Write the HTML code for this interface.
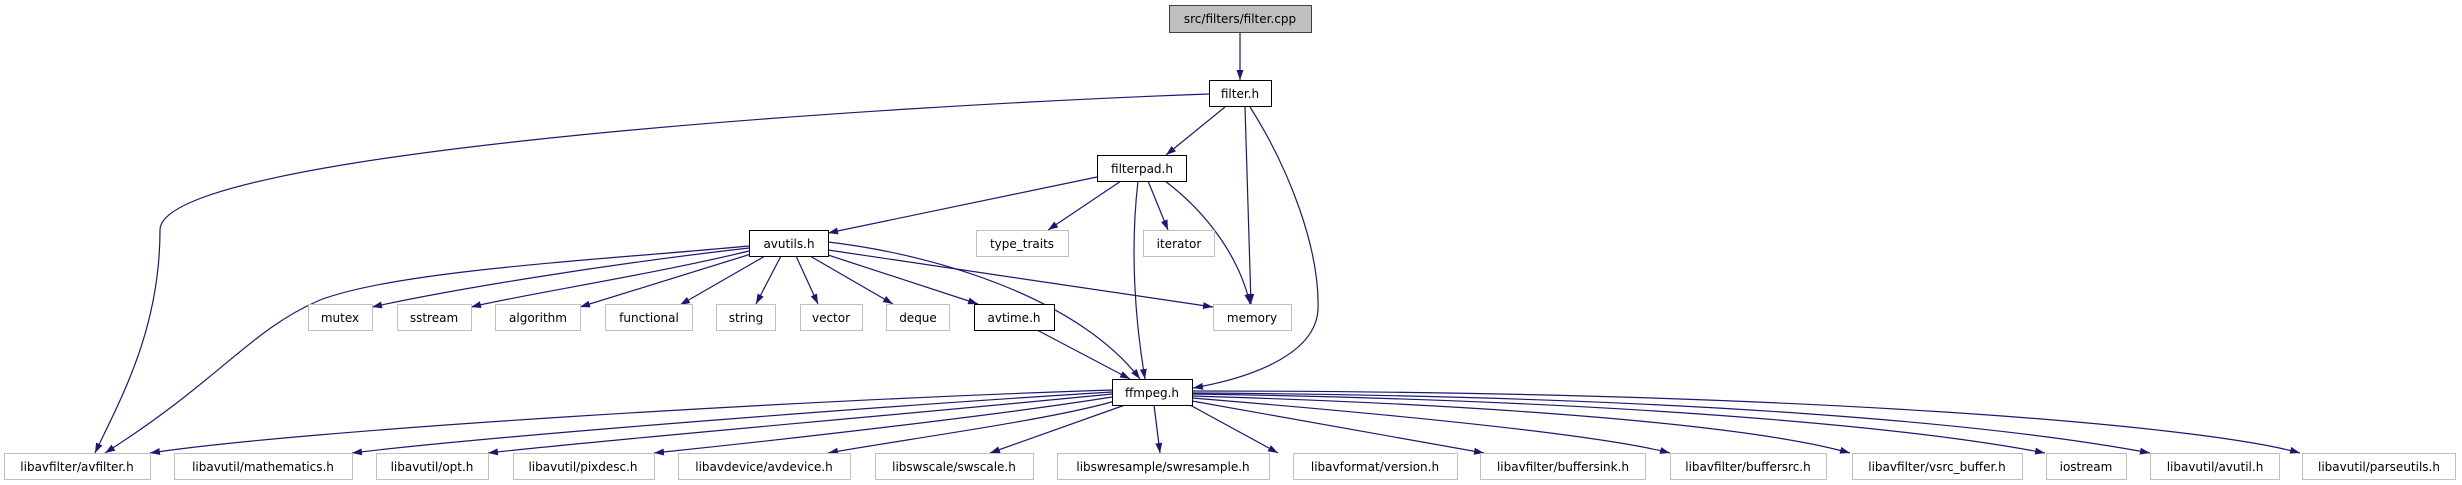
<!DOCTYPE html>
<html><head><meta charset="utf-8"><style>
body{margin:0;background:#fff;}
svg{display:block}
text{font-family:"DejaVu Sans","Liberation Sans",sans-serif;font-size:12px;fill:#000}
</style></head><body>
<svg width="2462" height="485" viewBox="0 0 2462 485" xmlns="http://www.w3.org/2000/svg">
<defs><marker id="a" viewBox="0 0 10 10" refX="10" refY="5" markerWidth="10" markerHeight="10" markerUnits="userSpaceOnUse" orient="auto"><path d="M0,1.5 L10,5 L0,8.5 z" fill="#191970"/></marker></defs>
<g fill="none" stroke="#191970" stroke-width="1.2" marker-end="url(#a)">
<path d="M1240,32 L1240,80"/>
<path d="M1209,94 C900,105 160,150 160,230 C160,330 120,400 95,453"/>
<path d="M1225,107 L1166,155"/>
<path d="M1245,107 L1251,304"/>
<path d="M1250,107 C1290,170 1320,250 1318,310 C1315,355 1250,378 1193,388"/>
<path d="M1097,177 L828,233"/>
<path d="M1121,181 L1048,230"/>
<path d="M1148,181 L1168,230"/>
<path d="M1165,181 C1210,215 1240,260 1250,304"/>
<path d="M1138,181 C1130,250 1135,320 1145,379"/>
<path d="M749,246 C600,260 400,270 320,300 C250,330 220,380 105,453"/>
<path d="M749,248 C600,265 450,290 372,307"/>
<path d="M749,251 C650,275 520,295 471,307"/>
<path d="M751,254 L580,307"/>
<path d="M765,256 L680,305"/>
<path d="M781,256 L756,304"/>
<path d="M796,256 L818,304"/>
<path d="M810,256 L893,304"/>
<path d="M825,254 L978,304"/>
<path d="M828,250 L1213,307"/>
<path d="M828,242 C940,255 1080,300 1140,379"/>
<path d="M1037,330 L1130,379"/>
<path d="M1112,390 C800,400 300,430 150,453"/>
<path d="M1112,392 C900,405 500,435 352,453"/>
<path d="M1112,394 C900,415 600,440 488,453"/>
<path d="M1112,397 C1000,415 780,440 654,453"/>
<path d="M1115,401 C1050,420 900,440 828,453"/>
<path d="M1125,405 L990,453"/>
<path d="M1154,405 L1160,453"/>
<path d="M1190,405 L1278,453"/>
<path d="M1192,401 L1484,453"/>
<path d="M1192,398 C1400,415 1600,435 1670,453"/>
<path d="M1192,396 C1500,405 1750,425 1850,453"/>
<path d="M1192,394 C1600,400 1900,425 2045,453"/>
<path d="M1192,393 C1700,396 2000,425 2150,453"/>
<path d="M1192,391 C1800,391 2200,425 2300,453"/>
</g>
<g stroke-width="1">
<rect x="1169.5" y="5.5" width="142" height="27" fill="#bfbfbf" stroke="#404040"/>
<g fill="#fff" stroke="#000">
<rect x="1209.5" y="80.5" width="62" height="26"/>
<rect x="1097.5" y="155.5" width="89" height="26"/>
<rect x="749.5" y="230.5" width="79" height="26"/>
<rect x="974.5" y="304.5" width="80" height="26"/>
<rect x="1112.5" y="379.5" width="80" height="26"/>
</g>
<g fill="#fff" stroke="#bfbfbf">
<rect x="976.5" y="230.5" width="92" height="26"/>
<rect x="1143.5" y="230.5" width="71" height="26"/>
<rect x="308.5" y="304.5" width="64" height="26"/>
<rect x="397.5" y="304.5" width="74" height="26"/>
<rect x="495.5" y="304.5" width="85" height="26"/>
<rect x="605.5" y="304.5" width="87" height="26"/>
<rect x="716.5" y="304.5" width="59" height="26"/>
<rect x="800.5" y="304.5" width="62" height="26"/>
<rect x="886.5" y="304.5" width="63" height="26"/>
<rect x="1213.5" y="304.5" width="78" height="26"/>
<rect x="4.5" y="453.5" width="146" height="26"/>
<rect x="174.5" y="453.5" width="178" height="26"/>
<rect x="376.5" y="453.5" width="112" height="26"/>
<rect x="513.5" y="453.5" width="141" height="26"/>
<rect x="678.5" y="453.5" width="172" height="26"/>
<rect x="875.5" y="453.5" width="158" height="26"/>
<rect x="1057.5" y="453.5" width="212" height="26"/>
<rect x="1293.5" y="453.5" width="164" height="26"/>
<rect x="1480.5" y="453.5" width="165" height="26"/>
<rect x="1670.5" y="453.5" width="156" height="26"/>
<rect x="1852.5" y="453.5" width="170" height="26"/>
<rect x="2046.5" y="453.5" width="80" height="26"/>
<rect x="2150.5" y="453.5" width="129" height="26"/>
<rect x="2302.5" y="453.5" width="153" height="26"/>
</g>
</g>
<g text-anchor="middle">
<text x="1240" y="23">src/filters/filter.cpp</text>
<text x="1240" y="98">filter.h</text>
<text x="1142" y="173">filterpad.h</text>
<text x="789" y="248">avutils.h</text>
<text x="1022" y="248">type_traits</text>
<text x="1179" y="248">iterator</text>
<text x="340" y="322">mutex</text>
<text x="434" y="322">sstream</text>
<text x="538" y="322">algorithm</text>
<text x="649" y="322">functional</text>
<text x="746" y="322">string</text>
<text x="831" y="322">vector</text>
<text x="918" y="322">deque</text>
<text x="1014" y="322">avtime.h</text>
<text x="1252" y="322">memory</text>
<text x="1152" y="397">ffmpeg.h</text>
<text x="77" y="471">libavfilter/avfilter.h</text>
<text x="263" y="471">libavutil/mathematics.h</text>
<text x="432" y="471">libavutil/opt.h</text>
<text x="583" y="471">libavutil/pixdesc.h</text>
<text x="764" y="471">libavdevice/avdevice.h</text>
<text x="954" y="471">libswscale/swscale.h</text>
<text x="1163" y="471">libswresample/swresample.h</text>
<text x="1375" y="471">libavformat/version.h</text>
<text x="1563" y="471">libavfilter/buffersink.h</text>
<text x="1748" y="471">libavfilter/buffersrc.h</text>
<text x="1937" y="471">libavfilter/vsrc_buffer.h</text>
<text x="2086" y="471">iostream</text>
<text x="2215" y="471">libavutil/avutil.h</text>
<text x="2379" y="471">libavutil/parseutils.h</text>
</g>
</svg>
</body></html>
